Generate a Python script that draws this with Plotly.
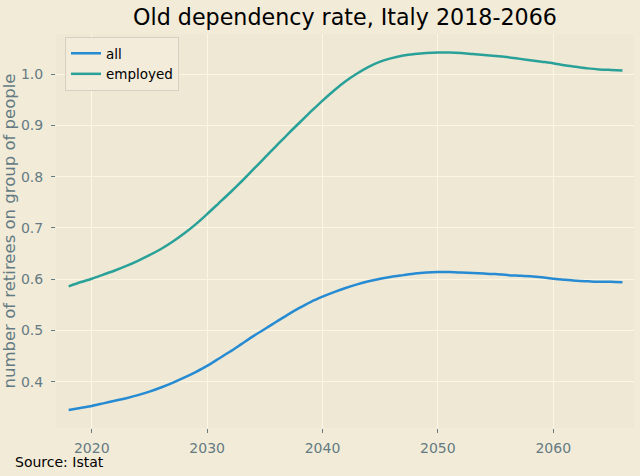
import plotly.graph_objects as go

years = list(range(2018, 2067))

all_rate = [0.345, 0.349, 0.353, 0.358, 0.363, 0.368, 0.374, 0.381, 0.389, 0.398,
            0.408, 0.419, 0.431, 0.445, 0.459, 0.474, 0.489, 0.503, 0.517, 0.531,
            0.544, 0.556, 0.566, 0.575, 0.583, 0.590, 0.596, 0.601, 0.605, 0.608,
            0.611, 0.613, 0.614, 0.614, 0.613, 0.612, 0.611, 0.610, 0.608, 0.607,
            0.606, 0.604, 0.601, 0.599, 0.597, 0.596, 0.595, 0.595, 0.594]

employed_rate = [0.586, 0.594, 0.601, 0.609, 0.617, 0.626, 0.636, 0.647, 0.659, 0.673,
                 0.689, 0.707, 0.727, 0.748, 0.769, 0.791, 0.814, 0.837, 0.860, 0.883,
                 0.905, 0.927, 0.948, 0.968, 0.986, 1.001, 1.014, 1.024, 1.031, 1.036,
                 1.039, 1.041, 1.042, 1.042, 1.041, 1.039, 1.037, 1.035, 1.033, 1.030,
                 1.027, 1.024, 1.021, 1.017, 1.014, 1.011, 1.009, 1.008, 1.007]

x_ticks = [2020, 2030, 2040, 2050, 2060]
y_ticks = [0.4, 0.5, 0.6, 0.7, 0.8, 0.9, 1.0]

FONT = "DejaVu Sans"
TICK_COLOR = "#657b83"

fig = go.Figure()
fig.add_trace(go.Scatter(x=years, y=all_rate, mode="lines", name="all",
                         line=dict(color="#268bd2", width=2.5, shape="spline", smoothing=0.6)))
fig.add_trace(go.Scatter(x=years, y=employed_rate, mode="lines", name="employed",
                         line=dict(color="#2aa198", width=2.5, shape="spline", smoothing=0.6)))

fig.update_layout(
    width=640, height=476,
    margin=dict(l=56, r=6, t=34, b=48),
    paper_bgcolor="#f2ebd8",
    plot_bgcolor="#eee8d5",
    font=dict(family=FONT, size=14, color=TICK_COLOR),
    title=dict(text="Old dependency rate, Italy 2018-2066", font=dict(family=FONT, size=22.2, color="#000000"),
               x=345/640, xanchor="center", y=1 - 17/476, yanchor="middle"),
    legend=dict(x=(65-56)/578, y=(428-37)/394, xanchor="left", yanchor="top",
                bgcolor="#f3ecda", bordercolor="#d6d0c0", borderwidth=1,
                font=dict(family=FONT, size=13.5, color="#000000"),
                tracegroupgap=0, itemwidth=30),
    showlegend=True,
    annotations=[dict(text="Source: Istat", xref="paper", yref="paper",
                      x=(13-56)/578, y=(428-462)/394, xanchor="left", yanchor="middle",
                      showarrow=False, font=dict(family=FONT, size=14, color="#000000"))],
)

fig.update_xaxes(range=[2016.9, 2067.0], tickvals=x_ticks, ticks="outside", ticklen=4,
                 tickcolor=TICK_COLOR, tickfont=dict(size=14, color=TICK_COLOR),
                 showgrid=True, gridcolor="#fdf6e3", gridwidth=1, zeroline=False,
                 showline=False, ticklabelstandoff=3, automargin=False)
fig.update_yaxes(range=[0.310, 1.078], tickvals=y_ticks, tickformat=".1f", ticks="outside", ticklen=4,
                 tickcolor=TICK_COLOR, tickfont=dict(size=14, color=TICK_COLOR),
                 showgrid=True, gridcolor="#fdf6e3", gridwidth=1, zeroline=False,
                 showline=False, ticklabelstandoff=5, automargin=False,
                 title=dict(text="number of retirees on group of people",
                            font=dict(family=FONT, size=16.5, color=TICK_COLOR), standoff=2))

fig.write_html("out.html", config={"displayModeBar": False},
               post_script="document.body.style.margin='0';")
